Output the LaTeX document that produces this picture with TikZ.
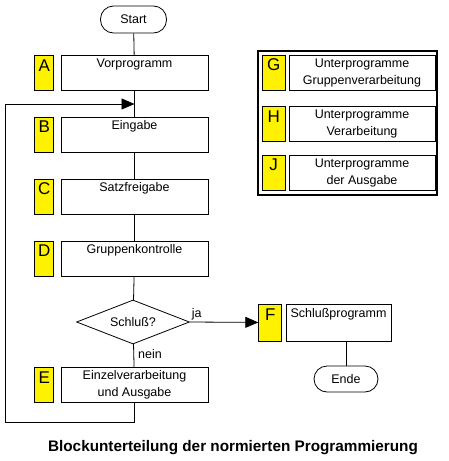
\documentclass[tikz,border=0pt]{standalone}
\usepackage{fontspec}
\setmainfont{Liberation Sans}
\usetikzlibrary{shapes.geometric,arrows.meta,positioning}

\begin{document}
\begin{tikzpicture}[x=1pt,y=-1pt,line width=0.8pt,
  every node/.style={font=\fontsize{12.5}{17}\selectfont},
  block/.style={draw,fill=white,minimum width=147pt,minimum height=35pt,inner sep=1pt,align=center},
  oneline/.style={text depth=20pt},
  tag/.style={draw,fill=yellow,minimum width=19pt,minimum height=35pt,inner sep=1pt,anchor=north,
    font=\fontsize{17}{17}\selectfont,text height=14pt,text depth=18pt},
  sub/.style={block,minimum width=146pt},
  term/.style={draw,rounded corners=13pt,minimum height=27pt,minimum width=66pt,inner sep=1pt},
  arr/.style={-{Triangle[length=13pt,width=11pt]}}]

\useasboundingbox (0,0) rectangle (448,461);

\node[term] (start) at (133.5,19.5) {Start};

\node[block,oneline] (A) at (134.5,73) {Vorprogramm};
\node[block,oneline] (B) at (134.5,134.5) {Eingabe};
\node[block,oneline] (C) at (134.5,196.5) {Satzfreigabe};
\node[block,oneline] (D) at (134.5,258.5) {Gruppenkontrolle};
\node[diamond,draw,aspect=2.57,minimum width=113pt,minimum height=44pt,inner sep=0pt] (Q) at (133,322) {Schluß?};
\node[block] (E) at (134.5,385) {Einzelverarbeitung\\und Ausgabe};

\node[block,oneline,minimum width=105pt,minimum height=37pt] (F) at (338.5,322.5) {Schlußprogramm};
\node[term,minimum width=64pt,minimum height=26pt] (ende) at (346,379) {Ende};

\foreach \n in {A,B,C,D,E}
  \node[tag,left=6.5pt of \n] (t\n) {\n};
\node[tag,minimum width=23pt,minimum height=37pt,left=3.5pt of F] (tF) {F};

\draw[line width=2.5pt] (258,51) rectangle (437,195);
\node[sub] (G) at (362,72.5) {Unterprogramme\\Gruppenverarbeitung};
\node[sub] (H) at (362,124) {Unterprogramme\\Verarbeitung};
\node[sub] (J) at (362,172.5) {Unterprogramme\\der Ausgabe};
\foreach \n in {G,H,J}
  \node[tag,minimum width=23pt,left=3pt of \n] (t\n) {\n};

\coordinate (join) at (134.5,104);
\coordinate (back) at (5,422);

\draw (start) -- (A);
\draw (A) -- (B);
\draw (B) -- (C);
\draw (C) -- (D);
\draw (D) -- (Q);
\draw (Q) -- node[right,pos=0.45,inner sep=4pt] {nein} (E);
\draw[arr] (Q.east) -- node[above,pos=0.1,inner sep=2pt] {ja} (tF);
\draw (F.south -| ende) -- (ende);
\draw[arr] (E.south) |- (back) |- (join);

\node[font=\bfseries\fontsize{15.3}{17}\selectfont] (title) at (233,448) {Blockunterteilung der normierten Programmierung};

\end{tikzpicture}
\end{document}
